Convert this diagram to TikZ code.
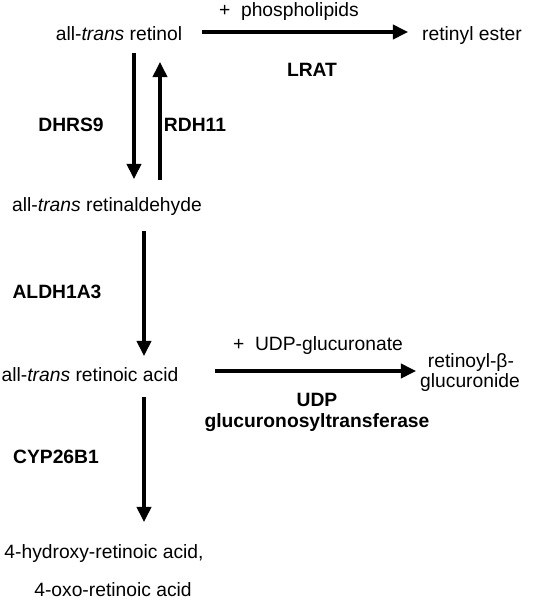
\documentclass[tikz,border=0pt]{standalone}
\usepackage{fontspec}
\setmainfont{Liberation Sans}
\usetikzlibrary{arrows.meta}

\begin{document}
\begin{tikzpicture}[x=0.025cm,y=-0.025cm,
  every node/.style={inner sep=0pt,font=\fontsize{13.7}{16}\selectfont},
  enz/.style={font=\fontsize{13.7}{16}\selectfont\bfseries},
  rxn/.style={-{Triangle[length=0.38cm,width=0.36cm]},line width=2.2pt}]
\useasboundingbox (0,0) rectangle (550,601);

\node (rol) at (119,34) {all-\textit{trans} retinol};
\node (ester) at (472,36) {retinyl ester};
\node (ral) at (107,207) {all-\textit{trans} retinaldehyde};
\node (ra) at (90,375) {all-\textit{trans} retinoic acid};
\node (glu1) at (471,363) {retinoyl-β-};
\node (glu2) at (470,383) {glucuronide};
\node (oh) at (104,554) {4-hydroxy-retinoic acid,};
\node (oxo) at (113,590) {4-oxo-retinoic acid};

\node (phos) at (289,12) {+\ \ phospholipids};
\node[enz] (lrat) at (312,70) {LRAT};
\node[enz] (dhrs) at (71,125) {DHRS9};
\node[enz] (rdh) at (195,125) {RDH11};
\node[enz] (aldh) at (57,292) {ALDH1A3};
\node (udpg) at (318,346) {+\ \ UDP-glucuronate};
\node[enz] (udp) at (317,400) {UDP};
\node[enz] (ugt) at (317,423) {glucuronosyltransferase};
\node[enz] (cyp) at (56,457) {CYP26B1};

\coordinate (e1) at (202,32);
\coordinate (e2) at (408,32);
\coordinate (d1) at (134,53);
\coordinate (d2) at (134,179);
\coordinate (u1) at (160,180);
\coordinate (u2) at (160,62);
\coordinate (a1) at (144,231);
\coordinate (a2) at (144,356);
\coordinate (g1) at (215,371);
\coordinate (g2) at (416,371);
\coordinate (c1) at (144,397);
\coordinate (c2) at (144,522);

\draw[rxn] (e1) -- (e2);
\draw[rxn] (d1) -- (d2);
\draw[rxn] (u1) -- (u2);
\draw[rxn] (a1) -- (a2);
\draw[rxn] (g1) -- (g2);
\draw[rxn] (c1) -- (c2);
\end{tikzpicture}
\end{document}
